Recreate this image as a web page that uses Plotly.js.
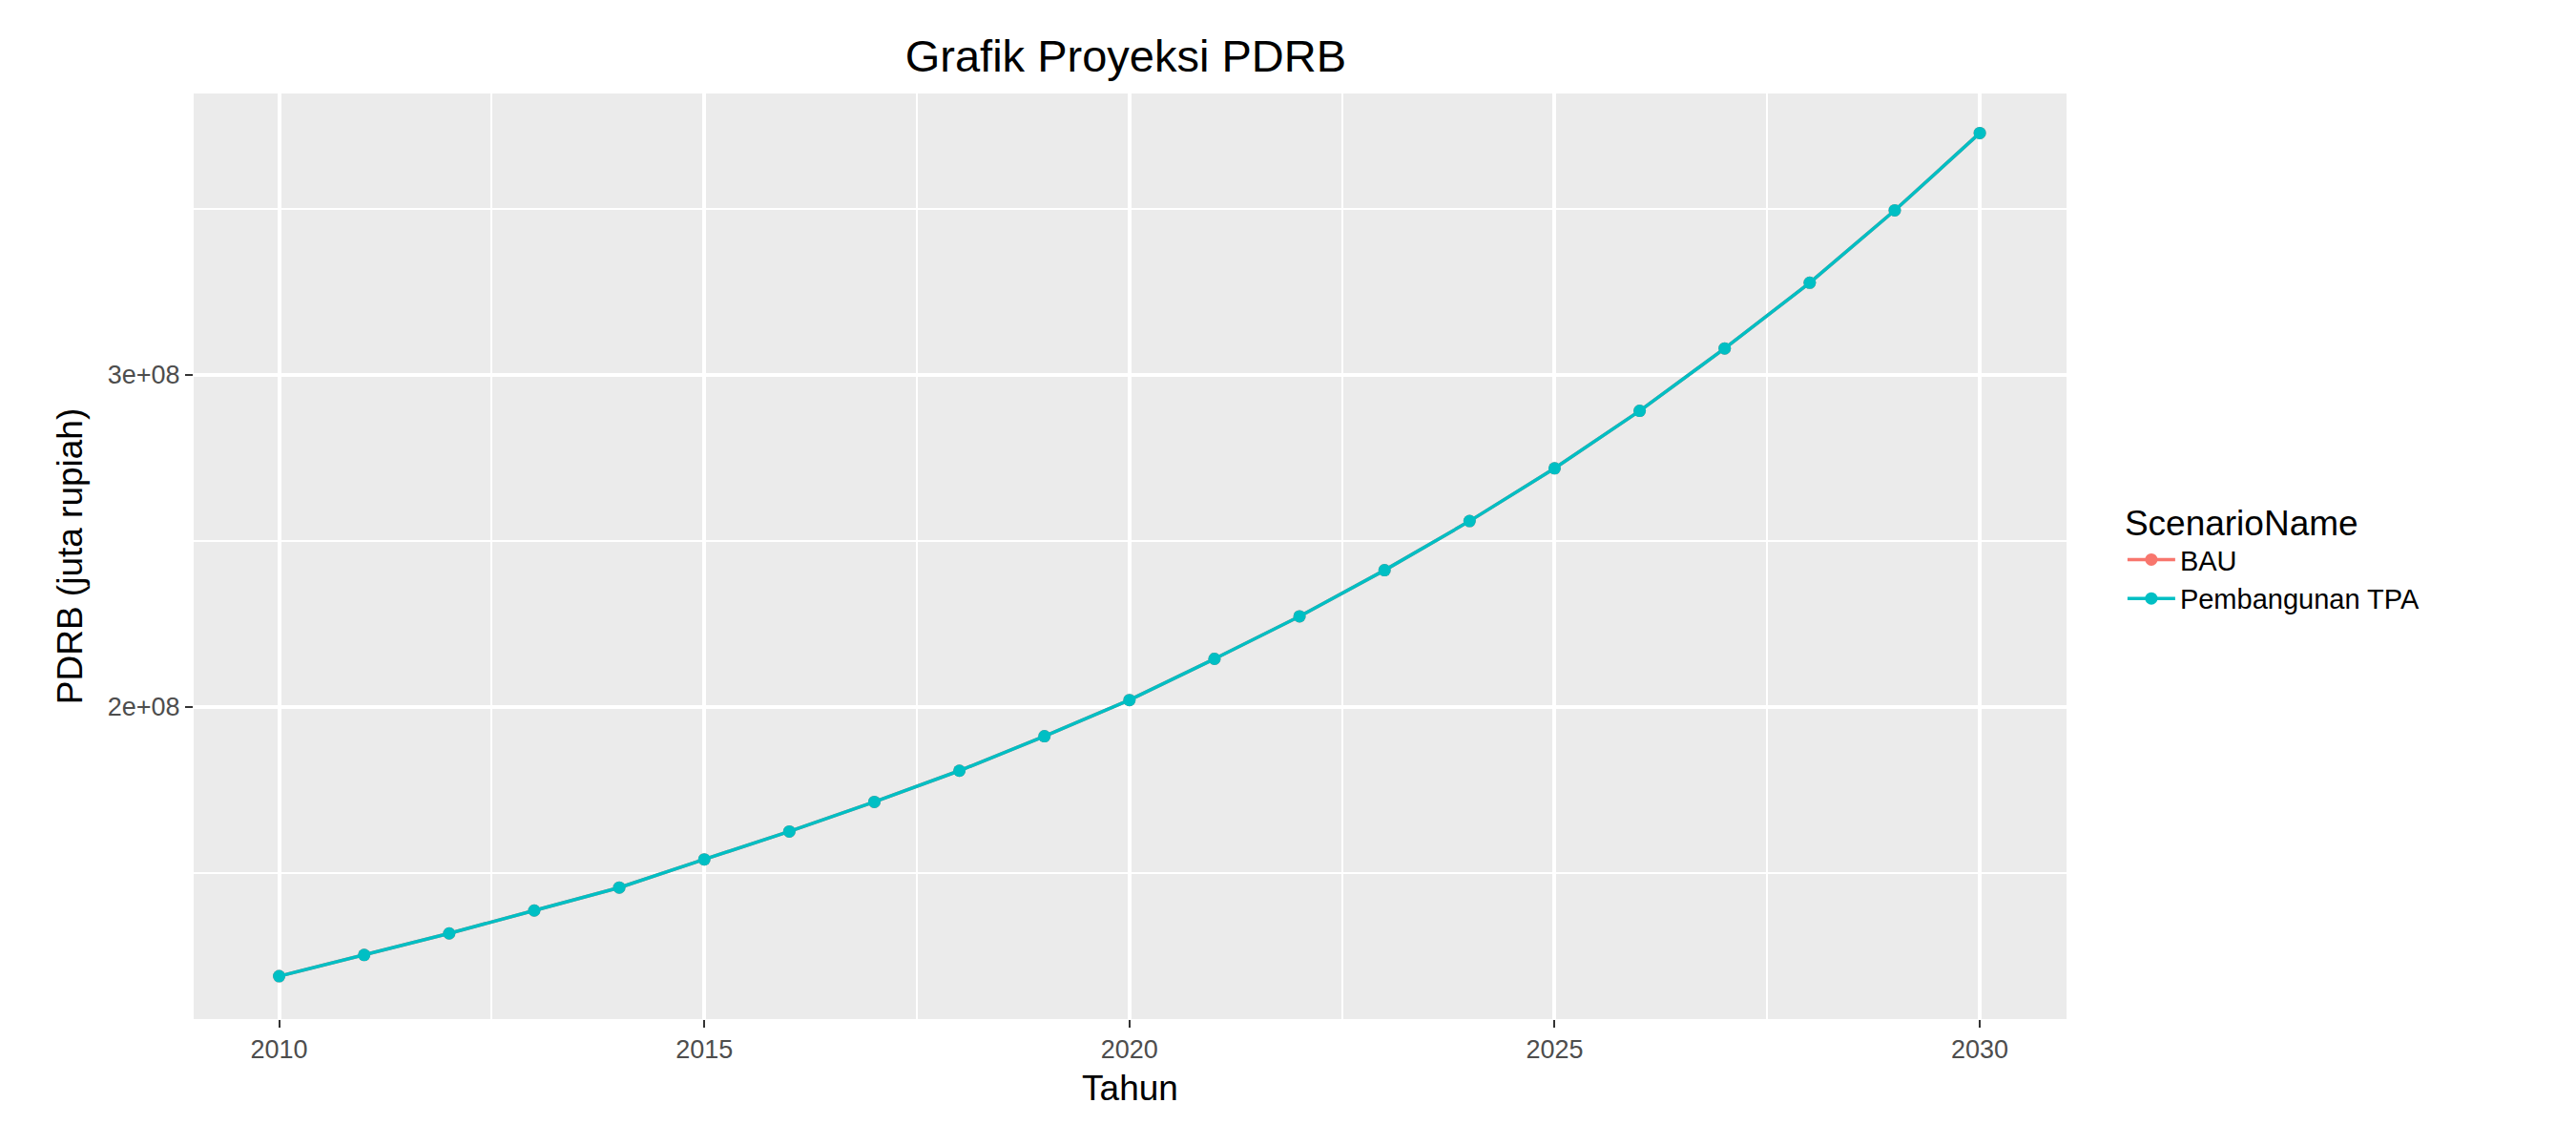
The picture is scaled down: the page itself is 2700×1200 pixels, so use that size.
<!DOCTYPE html>
<html>
<head>
<meta charset="utf-8">
<script src="https://cdn.plot.ly/plotly-3.0.1.min.js"></script>
<style>body{margin:0;background:#fff}#chart{width:2700px;height:1200px}</style>
</head>
<body>
<div id="chart"></div>
<script>
// Proyeksi PDRB (juta rupiah), both scenarios overlap
const years = [2010,2011,2012,2013,2014,2015,2016,2017,2018,2019,2020,
               2021,2022,2023,2024,2025,2026,2027,2028,2029,2030];
const bau = [1.188e8,1.252e8,1.317e8,1.386e8,1.455e8,1.540e8,1.624e8,1.713e8,1.807e8,1.911e8,2.020e8,
             2.144e8,2.272e8,2.411e8,2.559e8,2.718e8,2.891e8,3.079e8,3.277e8,3.495e8,3.728e8];
const tpa = bau.slice();
const yTickVals = [2e8, 3e8];
const yTickText = ['2e+08', '3e+08'];

const font = 'Liberation Sans, Arial, sans-serif';

function series(name, y, color) {
    return {
        x: years, y: y, name: name, type: 'scatter', mode: 'lines+markers',
        line: {color: color, width: 3.5},
        marker: {color: color, size: 13}
    };
}

const layout = {
    width: 2700, height: 1200,
    paper_bgcolor: '#ffffff',
    plot_bgcolor: '#ebebeb',
    margin: {l: 203, r: 534, t: 98, b: 132},
    title: {text: 'Grafik Proyeksi PDRB', font: {family: font, size: 47, color: '#000'}, x: 0.437, xanchor: 'center', y: 0.965},
    xaxis: {
        range: [2008.995, 2031.02], tickvals: [2010, 2015, 2020, 2025, 2030],
        showgrid: true, gridcolor: '#ffffff', gridwidth: 3.5, zeroline: false,
        minor: {tickvals: [2012.5, 2017.5, 2022.5, 2027.5], showgrid: true, gridcolor: '#ffffff', gridwidth: 1.5},
        ticks: 'outside', ticklen: 8, tickcolor: '#333', tickwidth: 2,
        tickfont: {family: font, size: 27, color: '#4d4d4d'},
        title: {text: 'Tahun', font: {family: font, size: 37, color: '#000'}, standoff: 12}
    },
    yaxis: {
        range: [1.059e8, 3.847e8], tickvals: yTickVals, ticktext: yTickText,
        showgrid: true, gridcolor: '#ffffff', gridwidth: 3.5, zeroline: false,
        minor: {tickvals: [1.5e8, 2.5e8, 3.5e8], showgrid: true, gridcolor: '#ffffff', gridwidth: 1.5},
        ticks: 'outside', ticklen: 8, tickcolor: '#333', tickwidth: 2,
        tickfont: {family: font, size: 27, color: '#4d4d4d'},
        title: {text: 'PDRB (juta rupiah)', font: {family: font, size: 37, color: '#000'}, standoff: 14}
    },
    showlegend: true,
    legend: {
        x: 1.03, xanchor: 'left', y: 0.5, yanchor: 'middle',
        title: {text: 'ScenarioName', font: {family: font, size: 37, color: '#000'}},
        font: {family: font, size: 29, color: '#000'},
        bgcolor: 'rgba(0,0,0,0)', itemwidth: 50, tracegroupgap: 8
    }
};

Plotly.newPlot('chart', [series('BAU', bau, '#F8766D'), series('Pembangunan TPA', tpa, '#00BFC4')], layout, {displayModeBar: false});
</script>
</body>
</html>
